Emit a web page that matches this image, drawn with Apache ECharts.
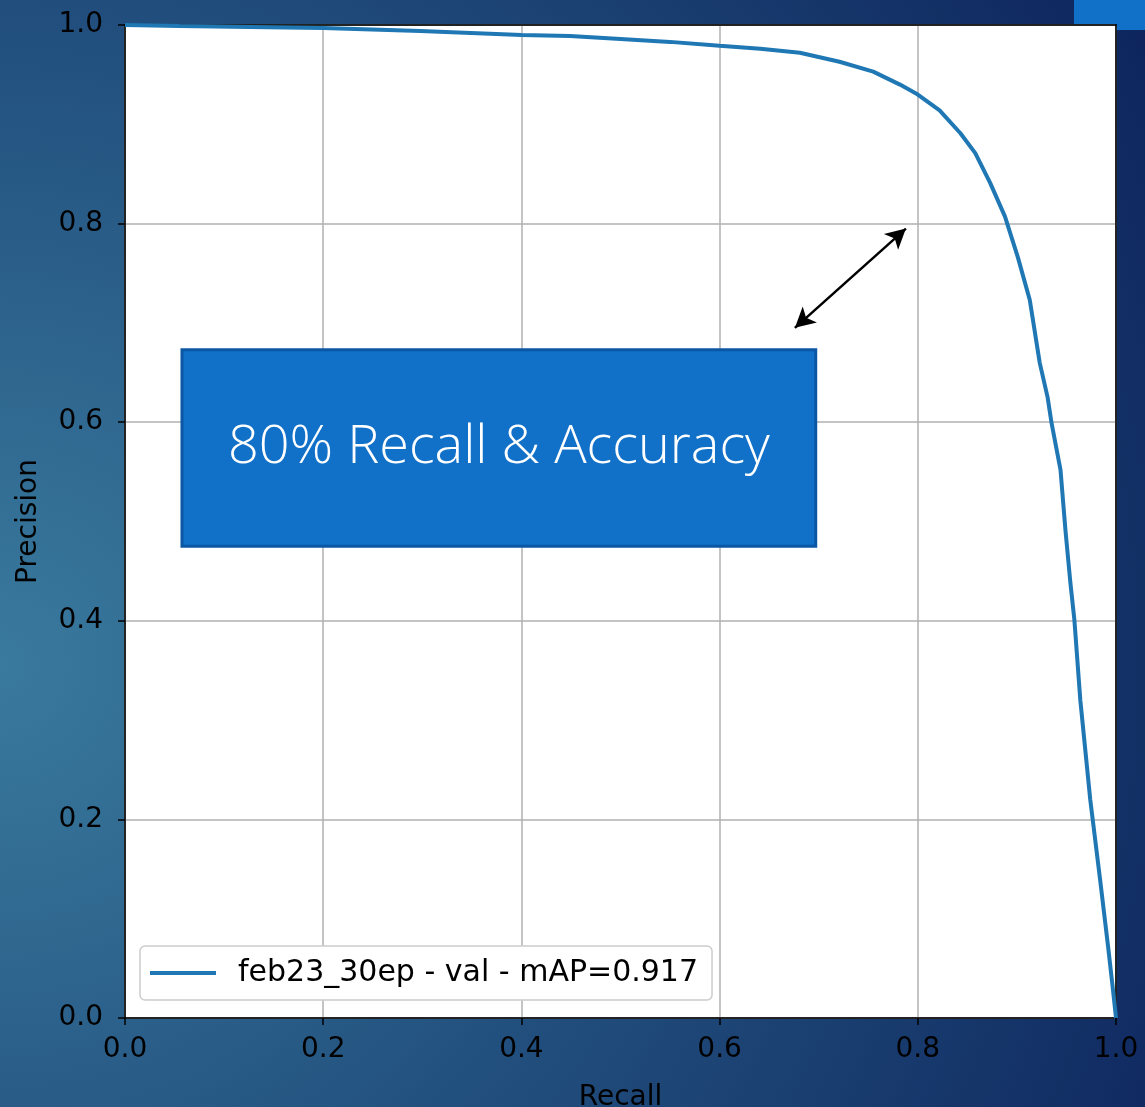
<!DOCTYPE html>
<html>
<head>
<meta charset="utf-8">
<script src="https://cdn.jsdelivr.net/npm/echarts@6/dist/echarts.min.js"></script>
<style>
html,body{margin:0;padding:0;overflow:hidden;}
#chart{width:1145px;height:1107px;display:block;}
</style>
</head>
<body>
<div id="chart"></div>
<script>
const recall = [0, 0.055, 0.126, 0.2, 0.298, 0.4, 0.449, 0.5, 0.55, 0.6, 0.641, 0.681, 0.721, 0.755, 0.782, 0.8, 0.822, 0.843, 0.858, 0.873, 0.888, 0.901, 0.913, 0.923, 0.931, 0.935, 0.944, 0.949, 0.954, 0.958, 0.964, 0.974, 0.984, 0.992, 0.997, 1.0];
const precision = [1.0, 0.999, 0.998, 0.997, 0.994, 0.990, 0.989, 0.986, 0.983, 0.979, 0.976, 0.972, 0.963, 0.953, 0.940, 0.930, 0.914, 0.891, 0.871, 0.841, 0.807, 0.766, 0.723, 0.660, 0.625, 0.599, 0.552, 0.491, 0.438, 0.401, 0.320, 0.220, 0.139, 0.072, 0.028, 0.0];
const seriesName = 'feb23_30ep - val - mAP=0.917';
const tickValues = [0, 0.2, 0.4, 0.6, 0.8, 1.0];
const boxText = '80% Recall & Accuracy';
const boxCorners = [[0.0575, 0.673], [0.697, 0.475]];
const arrowEnds = [[0.676, 0.695], [0.788, 0.795]];

const chart = echarts.init(document.getElementById('chart'));
const font = '"DejaVu Sans", Verdana, sans-serif';
const axisCommon = {
  type: 'value', min: 0, max: 1, interval: 0.2,
  axisLine: {show: true, onZero: false, lineStyle: {color: '#000', width: 1.5}},
  axisTick: {show: true, length: 7, lineStyle: {color: '#000', width: 1.5}},
  axisLabel: {color: '#000', fontSize: 28, fontFamily: font, margin: 12, formatter: v => v.toFixed(1)},
  splitLine: {show: true, lineStyle: {color: '#b0b0b0', width: 1.5}},
  nameTextStyle: {color: '#000', fontSize: 28, fontFamily: font},
  nameLocation: 'middle'
};
const frameAxis = {
  type: 'value', min: 0, max: 1, interval: 0.2,
  axisLine: {show: true, onZero: false, lineStyle: {color: '#000', width: 1.5}},
  axisTick: {show: false}, axisLabel: {show: false}, splitLine: {show: false}
};
chart.setOption({
  animation: false,
  backgroundColor: new echarts.graphic.RadialGradient(0, 0.6, 1.25, [
    {offset: 0, color: '#3a7a9e'},
    {offset: 0.45, color: '#22507e'},
    {offset: 1, color: '#0c215a'}
  ]),
  graphic: [{
    type: 'rect', right: 0, top: 0, z: -1,
    shape: {width: 71, height: 30},
    style: {fill: '#1170c8'}
  }],
  grid: {left: 125, top: 25, width: 991, height: 993, outerBoundsMode: 'none', containLabel: false, show: true, backgroundColor: '#fff', borderColor: '#000', borderWidth: 1.5},
  xAxis: [
    Object.assign({}, axisCommon, {name: 'Recall', nameGap: 66, position: 'bottom',
      axisLabel: Object.assign({}, axisCommon.axisLabel, {margin: 18})}),
    Object.assign({}, frameAxis, {position: 'top'})
  ],
  yAxis: [
    Object.assign({}, axisCommon, {name: 'Precision', nameGap: 82, position: 'left',
      axisLabel: Object.assign({}, axisCommon.axisLabel, {margin: 22})}),
    Object.assign({}, frameAxis, {position: 'right'})
  ],
  legend: {
    left: 140, top: 946, orient: 'vertical',
    backgroundColor: '#fff', borderColor: '#cccccc', borderWidth: 1.5, borderRadius: 5,
    padding: [12, 14, 12, 10],
    icon: 'rect', itemWidth: 66, itemHeight: 4, itemGap: 0,
    textStyle: {color: '#000', fontSize: 30, fontFamily: font, padding: [0, 0, 0, 17]},
    data: [seriesName]
  },
  series: [{
    name: seriesName,
    type: 'line',
    data: recall.map((r, i) => [r, precision[i]]),
    symbol: 'none',
    lineStyle: {color: '#1f77b4', width: 4},
    itemStyle: {color: '#1f77b4'},
    z: 3,
    markArea: {
      silent: true,
      itemStyle: {color: '#1170c8', borderColor: '#0b57a4', borderWidth: 3},
      label: {show: true, position: 'inside', color: '#fff', fontSize: 54, fontFamily: '"Open Sans"', fontWeight: 300, formatter: boxText},
      data: [[{coord: boxCorners[0]}, {coord: boxCorners[1]}]]
    },
    markLine: {
      silent: true,
      symbol: ['arrow', 'arrow'],
      symbolSize: [16, 20],
      lineStyle: {color: '#000', width: 2.5, type: 'solid'},
      label: {show: false},
      data: [[{coord: arrowEnds[0]}, {coord: arrowEnds[1]}]]
    }
  }]
});
</script>
</body>
</html>
